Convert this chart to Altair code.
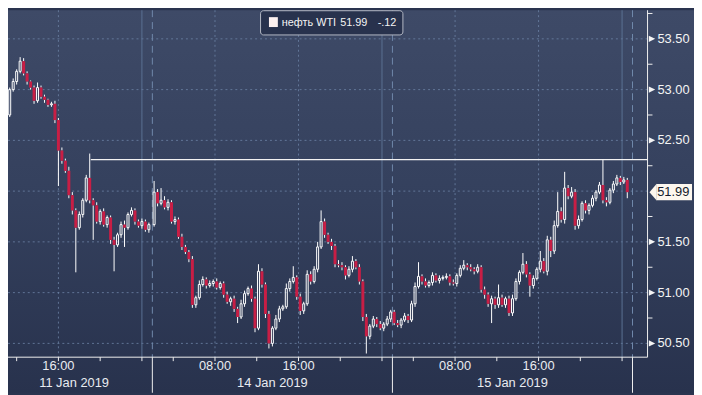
import altair as alt
import pandas as pd

# ---------------- data (20-minute bars, Moscow time) ----------------
first_open = 52.75
# 11 Jan session (visible part)
s1_close = [53.00, 53.08, 53.18, 53.28, 53.16, 53.08, 53.02, 52.89, 53.02, 52.93,
            52.90, 52.85, 52.86, 52.70, 52.40, 52.30, 52.20, 51.96, 51.81, 51.64,
            51.77, 51.91, 52.13, 51.91, 51.86, 51.70, 51.80, 51.67, 51.74, 51.52,
            51.47, 51.57, 51.67, 51.64, 51.77, 51.81, 51.70, 51.66, 51.70, 51.62,
            51.67]
# 14 Jan session
s2_close = [51.99, 51.88, 51.91, 51.84, 51.89, 51.70, 51.72, 51.55, 51.45, 51.40,
            51.33, 50.88, 50.95, 51.08, 51.13, 51.07, 51.09, 51.11, 51.05, 51.09,
            50.98, 50.91, 50.94, 50.84, 50.76, 50.89, 50.99, 51.04, 50.94, 50.65,
            51.21, 51.08, 50.79, 50.50, 50.65, 50.74, 50.84, 50.86, 51.04, 51.11,
            51.15, 50.96, 50.82, 50.89, 51.18, 51.11, 51.23, 51.45, 51.70, 51.57,
            51.50, 51.46, 51.28, 51.27, 51.25, 51.17, 51.23, 51.31, 51.25, 51.11,
            50.76, 50.57, 50.67, 50.74, 50.69, 50.65, 50.69, 50.74, 50.81]
# 15 Jan session
s3_close = [50.70, 50.68, 50.73, 50.77, 50.73, 50.89, 51.06, 51.16, 51.11, 51.07,
            51.10, 51.17, 51.12, 51.14, 51.15, 51.16, 51.10, 51.09, 51.17, 51.24,
            51.27, 51.25, 51.23, 51.21, 51.25, 51.03, 50.98, 50.89, 50.94, 50.88,
            50.95, 50.88, 50.94, 50.80, 50.94, 51.11, 51.20, 51.28, 51.18, 51.07,
            51.14, 51.23, 51.31, 51.21, 51.52, 51.41, 51.66, 51.80, 51.72, 52.03,
            51.95, 51.99, 51.66, 51.72, 51.88, 51.81, 51.86, 51.93, 51.99, 52.06,
            51.91, 51.89, 52.01, 52.07, 52.13, 52.09, 52.11, 51.99]
# upper / lower wick length beyond the body, in cents
s1_hw = [2, 3, 2, 4, 3, 2, 1, 2, 3, 2, 2, 1, 2, 3, 2, 3, 2, 4, 3, 2,
         3, 2, 3, 0, 2, 3, 2, 3, 2, 2, 3, 2, 3, 4, 2, 3, 2, 2, 3, 2, 2]
s1_lw = [2, 2, 3, 2, 2, 3, 2, 3, 2, 2, 3, 2, 2, 3, 0, 3, 2, 3, 4, 0,
         2, 3, 2, 3, 0, 2, 3, 2, 3, 4, 0, 2, 3, 0, 2, 2, 3, 2, 3, 2, 3]
s2_hw = [0, 3, 0, 4, 3, 2, 3, 2, 3, 2, 2, 3, 2, 4, 3, 2, 3, 2, 3, 2,
         2, 3, 2, 3, 2, 4, 3, 2, 3, 2, 0, 3, 2, 3, 2, 4, 3, 2, 5, 3,
         0, 2, 3, 2, 4, 3, 3, 5, 0, 3, 2, 3, 2, 4, 3, 2, 3, 0, 2, 3,
         2, 3, 2, 3, 2, 3, 2, 3, 2]
s2_lw = [2, 3, 2, 2, 3, 2, 3, 2, 3, 2, 3, 0, 3, 2, 2, 3, 2, 3, 2, 2,
         3, 2, 4, 3, 0, 2, 3, 2, 3, 4, 2, 3, 0, 0, 3, 2, 3, 2, 2, 3,
         2, 3, 4, 3, 2, 3, 2, 3, 2, 3, 2, 4, 3, 2, 3, 4, 2, 3, 2, 3,
         4, 0, 3, 2, 3, 2, 3, 2, 3]
s3_hw = [2, 3, 2, 3, 2, 3, 4, 0, 2, 3, 2, 3, 2, 3, 2, 3, 2, 3, 2, 3,
         0, 2, 3, 2, 3, 2, 3, 2, 3, 2, 0, 3, 2, 3, 4, 3, 2, 0, 3, 2,
         3, 2, 0, 3, 4, 3, 5, 0, 4, 0, 3, 5, 3, 4, 2, 3, 2, 3, 2, 3,
         0, 3, 2, 3, 0, 2, 3, 2]
s3_lw = [2, 2, 3, 2, 3, 2, 3, 2, 3, 2, 2, 3, 2, 3, 2, 2, 3, 2, 3, 2,
         2, 3, 2, 3, 2, 3, 4, 3, 0, 4, 3, 2, 3, 0, 3, 2, 3, 2, 3, 0,
         3, 2, 3, 2, 4, 0, 3, 2, 3, 4, 3, 2, 0, 3, 2, 3, 4, 2, 3, 2,
         3, 4, 2, 3, 2, 3, 2, 0]
# long wick extremes (bar index within session -> price)
s1_high = {3: 53.32, 8: 53.07, 22: 52.16, 23: 52.37}
s1_low = {14: 52.05, 19: 51.20, 24: 51.52, 30: 51.21, 33: 51.45}
s2_high = {0: 52.10, 2: 52.03, 30: 51.28, 40: 51.26, 48: 51.81, 57: 51.36}
s2_low = {11: 50.85, 24: 50.70, 32: 50.75, 33: 50.45, 61: 50.40}
s3_high = {7: 51.30, 20: 51.32, 30: 51.08, 37: 51.39, 42: 51.41, 47: 51.99,
           49: 52.19, 60: 52.31, 64: 52.16}
s3_low = {28: 50.70, 33: 50.77, 39: 50.96, 45: 51.35, 52: 51.62, 67: 51.93}

# trading-hours axis: hours since 11 Jan 00:00 with the session breaks removed
bar_hours = 1 / 3
session_first_bar = [11 + 1 / 3, 25 + 1 / 6, 48 + 1 / 6]
session_breaks = [25, 48, 71]
midnights = [24, 47, 70]
tick_hours = [12, 16, 20, 24, 27, 31, 35, 39, 43, 47, 50, 54, 58, 62, 66, 70]
time_label_t = [16, 31, 39, 54, 62]
time_label_text = ["16:00", "08:00", "16:00", "08:00", "16:00"]
date_label_t = [17.5, 36.5, 59.5]
date_label_text = ["11 Jan 2019", "14 Jan 2019", "15 Jan 2019"]
grid_prices = [50.5, 51.0, 51.5, 52.0, 52.5, 53.0, 53.5]
label_prices = [50.5, 51.0, 51.5, 52.5, 53.0, 53.5]
minor_prices = [50.75, 51.25, 51.75, 52.25, 52.75, 53.25, 53.75]
resistance_level = 52.31
resistance_start = 19.1
last_price = 51.99
change_text = "-.12"
series_name = "нефть WTI"

x_domain = [11.17, 72.44]
y_domain = [50.364, 53.782]

# ---------------- layout / style ----------------
W, H = 647, 351
PR, PB = 47, 36
FONT = "Liberation Sans"
AXC = "#f0f0f0"
px_per_hour = W / (x_domain[1] - x_domain[0])
up_half = 1.0 / px_per_hour     # hollow body: 2 px wide
dn_half = 1.5 / px_per_hour     # filled body: 3 px wide

# ---------------- build tables ----------------
closes_all = [s1_close, s2_close, s3_close]
hw_all = [s1_hw, s2_hw, s3_hw]
lw_all = [s1_lw, s2_lw, s3_lw]
highs_all = [s1_high, s2_high, s3_high]
lows_all = [s1_low, s2_low, s3_low]
rows = []
prev = first_open
for s in range(3):
    for k, c in enumerate(closes_all[s]):
        o = prev
        top, bot = max(o, c), min(o, c)
        hw = hw_all[s][k] if k < len(hw_all[s]) else 0
        lw = lw_all[s][k] if k < len(lw_all[s]) else 0
        hi = max(top + hw / 100, highs_all[s].get(k, 0))
        lo = min(bot - lw / 100, lows_all[s].get(k, 99))
        t = session_first_bar[s] + k * bar_hours
        half = up_half if c >= o else dn_half
        rows.append({"t": t, "t0": t - half, "t1": t + half, "open": o,
                     "close": c, "high": hi, "low": lo, "up": c >= o,
                     "top": top, "bot": bot})
        prev = c
bars = pd.DataFrame(rows)
wick_rows = []
for r in rows:
    if r["high"] > r["top"]:
        wick_rows.append({"t": r["t"], "a": r["top"], "b": r["high"]})
    if r["low"] < r["bot"]:
        wick_rows.append({"t": r["t"], "a": r["low"], "b": r["bot"]})
wicks = pd.DataFrame(wick_rows)

xs = alt.Scale(domain=x_domain, nice=False, zero=False, padding=0)
ys = alt.Scale(domain=y_domain, nice=False, zero=False, padding=0)


def X(field="t"):
    return alt.X(field, type="quantitative", scale=xs, axis=None)


def Y(field):
    return alt.Y(field, type="quantitative", scale=ys, axis=None)


one = pd.DataFrame({"k": [0]})

bg = alt.Chart(one).mark_rect(
    color=alt.LinearGradient(
        gradient="linear", x1=0, x2=0, y1=0, y2=1,
        stops=[alt.GradientStop(color="#3e4a67", offset=0),
               alt.GradientStop(color="#34405d", offset=0.5),
               alt.GradientStop(color="#28324d", offset=1)])
).encode(x=alt.value(0), x2=alt.value(W + PR), y=alt.value(0), y2=alt.value(H + PB))

hgrid = alt.Chart(pd.DataFrame({"p": grid_prices})).mark_rule(
    color="#6a80a2", strokeDash=[2, 3], strokeWidth=1, opacity=0.85
).encode(y=Y("p"))

vgrid = alt.Chart(pd.DataFrame({"t": time_label_t})).mark_rule(
    color="#6a80a2", strokeDash=[2, 3], strokeWidth=1, opacity=0.85
).encode(x=X())

mid = alt.Chart(pd.DataFrame({"t": midnights})).mark_rule(
    color="#5b7193", strokeWidth=1
).encode(x=X())

brk = alt.Chart(pd.DataFrame({"t": session_breaks})).mark_rule(
    color="#7089ab", strokeDash=[7, 5], strokeWidth=1
).encode(x=X())

brk_axis = alt.Chart(pd.DataFrame({"t": session_breaks})).mark_rule(
    color=AXC, strokeWidth=1
).encode(x=X(), y=alt.value(H), y2=alt.value(H + PB))

res = alt.Chart(pd.DataFrame({"t": [resistance_start], "t2": [x_domain[1]],
                              "p": [resistance_level]})).mark_rule(
    color="#f2f2f2", strokeWidth=1.2
).encode(x=X(), x2="t2:Q", y=Y("p"))

wick = alt.Chart(wicks).mark_rule(color="#ffffff", strokeWidth=1).encode(
    x=X(), y=Y("a"), y2="b:Q")

up = alt.Chart(bars).transform_filter("datum.up").mark_rect(
    fillOpacity=0, stroke="#ffffff", strokeWidth=1
).encode(x=X("t0"), x2="t1:Q", y=Y("open"), y2="close:Q")

down = alt.Chart(bars).transform_filter("!datum.up").mark_rect(
    color="#c81e45"
).encode(x=X("t0"), x2="t1:Q", y=Y("open"), y2="close:Q")

# axes drawn by hand
x_line = alt.Chart(one).mark_rule(color=AXC, strokeWidth=1).encode(
    x=alt.value(0), x2=alt.value(W), y=alt.value(H))
y_line = alt.Chart(one).mark_rule(color=AXC, strokeWidth=1).encode(
    x=alt.value(W), y=alt.value(0), y2=alt.value(H))
x_ticks = alt.Chart(pd.DataFrame({"t": tick_hours})).mark_rule(
    color=AXC, strokeWidth=1).encode(x=X(), y=alt.value(H), y2=alt.value(H + 4))

minor = alt.Chart(pd.DataFrame({"p": minor_prices})).mark_rule(
    color=AXC, strokeWidth=1
).encode(y=Y("p"), x=alt.value(W), x2=alt.value(W + 5))

arrows = alt.Chart(pd.DataFrame({"p": label_prices})).mark_point(
    shape="M -1 -1 L 1 0 L -1 1 Z", filled=True, color="#f4f4f4", size=42, opacity=1
).encode(y=Y("p"), x=alt.value(W + 4.5))

y_labels = alt.Chart(pd.DataFrame({"p": label_prices,
                                   "txt": [f"{p:.2f}" for p in label_prices]})).mark_text(
    font=FONT, fontSize=13, color="#f4f4f4", align="left", baseline="middle"
).encode(y=Y("p"), x=alt.value(W + 10), text="txt:N")

tag_df = pd.DataFrame({"p": [last_price], "lo": [last_price - 0.08],
                       "hi": [last_price + 0.08], "txt": [f"{last_price:.2f}"]})
tag_rect = alt.Chart(tag_df).mark_rect(color="#fdf7ee").encode(
    y=Y("lo"), y2="hi:Q", x=alt.value(W + 9), x2=alt.value(W + 45))
tag_tip = alt.Chart(tag_df).mark_point(
    shape="M 0.85 -1 L 0 0 L 0.85 1 Z", filled=True, color="#fdf7ee", size=289,
    opacity=1).encode(y=Y("p"), x=alt.value(W + 2))
tag_txt = alt.Chart(tag_df).mark_text(
    font=FONT, fontSize=13, color="#141a2b", align="center", baseline="middle"
).encode(y=Y("p"), x=alt.value(W + 26), text="txt:N")

tl = alt.Chart(pd.DataFrame({"t": time_label_t, "txt": time_label_text})).mark_text(
    font=FONT, fontSize=13, color="#e9ecf1", baseline="middle"
).encode(x=X(), y=alt.value(H + 9), text="txt:N")
dl = alt.Chart(pd.DataFrame({"t": date_label_t, "txt": date_label_text})).mark_text(
    font=FONT, fontSize=13, color="#e9ecf1", baseline="middle"
).encode(x=X(), y=alt.value(H + 26), text="txt:N")

leg_box = alt.Chart(one).mark_rect(
    fill="#28324d", stroke="#b4b9c4", strokeWidth=1, cornerRadius=3
).encode(x=alt.value(255.5), x2=alt.value(399.5), y=alt.value(0.5), y2=alt.value(25))
leg_sq = alt.Chart(one).mark_rect(color="#fdf1f0").encode(
    x=alt.value(264), x2=alt.value(273), y=alt.value(7), y2=alt.value(17))


def leg_text(txt, xpos):
    return alt.Chart(pd.DataFrame({"txt": [txt]})).mark_text(
        font=FONT, fontSize=11, color="#f4f4f4", align="left", baseline="middle"
    ).encode(x=alt.value(xpos), y=alt.value(12.5), text="txt:N")


leg_name = leg_text(series_name, 277)
leg_price = leg_text(f"{last_price:.2f}", 336)
leg_chg = leg_text(change_text, 374)

chart = alt.layer(
    bg, hgrid, vgrid, mid, brk, brk_axis, res, wick, up, down,
    x_line, y_line, x_ticks, minor, arrows, y_labels,
    tag_rect, tag_tip, tag_txt, tl, dl, leg_box, leg_sq,
    leg_name, leg_price, leg_chg
).properties(
    width=W, height=H,
    padding={"left": 0, "top": 0, "right": PR, "bottom": PB},
    autosize=alt.AutoSizeParams(type="none"),
    background="#2a344f",
).configure_view(stroke=None)

chart.save("out.html", embed_options={"renderer": "svg", "actions": False})
